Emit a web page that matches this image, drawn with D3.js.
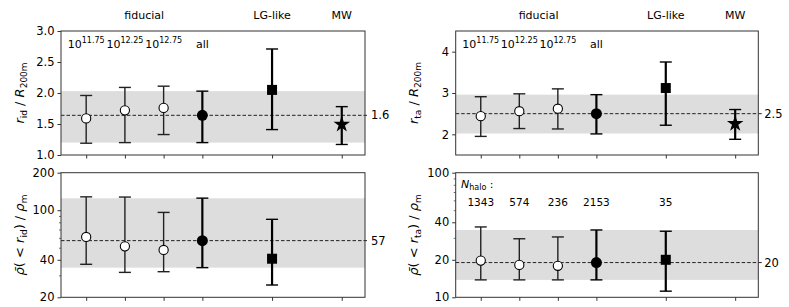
<!DOCTYPE html>
<html>
<head>
<meta charset="utf-8">
<script src="https://cdn.jsdelivr.net/npm/d3@7"></script>
<style>
  body { margin: 0; background: #fff; }
  svg { font-family: "DejaVu Sans", sans-serif; }
</style>
</head>
<body>
<svg width="789" height="307"></svg>
<script>
// sample positions along x, marker type per sample
const xPos = [0, 1, 2, 3, 4.8, 6.6];
const markers = ["open", "open", "open", "filled", "square", "star"];
const massExp = ["11.75", "12.25", "12.75"];
const groupLabels = [["fiducial", 1.5], ["LG-like", 4.8], ["MW", 6.6]];
const nHalo = ["1343", "574", "236", "2153", "35"];

// r_id / R200m
const ridMed = [1.59, 1.72, 1.76, 1.64, 2.05, 1.51];
const ridLo = [1.19, 1.20, 1.33, 1.20, 1.41, 1.17];
const ridHi = [1.96, 2.09, 2.11, 2.03, 2.71, 1.78];
const ridBand = [1.20, 2.03];
const ridRef = 1.64;

// rho(<r_id) / rho_m
const rhoIdMed = [61, 51.3, 48, 57, 40.8];
const rhoIdLo = [36.8, 31.7, 32.1, 34.6, 25.1];
const rhoIdHi = [128, 127.5, 96, 125, 84.5];
const rhoIdBand = [34.6, 124.6];
const rhoIdRef = 57;

// r_ta / R200m
const rtaMed = [2.44, 2.56, 2.62, 2.50, 3.12, 2.28];
const rtaLo = [1.95, 2.14, 2.13, 2.01, 2.22, 1.88];
const rtaHi = [2.91, 2.98, 3.10, 2.96, 3.75, 2.60];
const rtaBand = [2.02, 2.96];
const rtaRef = 2.5;

// rho(<r_ta) / rho_m
const rhoTaMed = [19.7, 18.2, 17.9, 19.0, 20.0];
const rhoTaLo = [13.8, 13.8, 13.8, 13.8, 11.2];
const rhoTaHi = [36.7, 29.5, 30.5, 34.7, 33.9];
const rhoTaBand = [13.8, 34.7];
const rhoTaRef = 19.0;

const svg = d3.select("svg");

function panel(opt) {
  var x = d3.scaleLinear().domain([-0.65, 7.2]).range([opt.x0, opt.x1]);
  var y = (opt.log ? d3.scaleLog() : d3.scaleLinear())
    .domain(opt.domain).range([opt.y1, opt.y0]);
  var g = svg.append("g");

  g.append("rect")
    .attr("x", opt.x0).attr("width", opt.x1 - opt.x0)
    .attr("y", y(opt.band[1])).attr("height", y(opt.band[0]) - y(opt.band[1]))
    .attr("fill", "#dddddd");

  g.append("line")
    .attr("x1", opt.x0).attr("x2", opt.x1 + 4)
    .attr("y1", y(opt.ref)).attr("y2", y(opt.ref))
    .attr("stroke", "#222").attr("stroke-width", 1).attr("stroke-dasharray", "3.5,2");
  g.append("text")
    .attr("x", opt.x1 + 6).attr("y", y(opt.ref)).attr("dy", "0.35em")
    .attr("font-size", 11.5).text(opt.refLabel);

  var yAxis = d3.axisLeft(y).tickValues(opt.ticks).tickSize(3.5).tickPadding(3)
    .tickFormat(opt.fmt);
  var ya = g.append("g").attr("transform", `translate(${opt.x0},0)`).call(yAxis);
  ya.select(".domain").remove();
  ya.selectAll("text").attr("font-size", 11.5).attr("font-family", "DejaVu Sans");
  ya.selectAll("line").attr("stroke", "#333");
  if (opt.minor) {
    var ym = d3.axisLeft(y).tickValues(opt.minor).tickSize(2).tickFormat("");
    var ymg = g.append("g").attr("transform", `translate(${opt.x0},0)`).call(ym);
    ymg.select(".domain").remove();
    ymg.selectAll("line").attr("stroke", "#333").attr("stroke-width", 0.7);
  }

  var xAxis = d3.axisBottom(x).tickValues(xPos).tickSize(3.5).tickFormat("");
  var xa = g.append("g").attr("transform", `translate(0,${opt.y1})`).call(xAxis);
  xa.select(".domain").remove();
  xa.selectAll("line").attr("stroke", "#333");

  g.append("rect")
    .attr("x", opt.x0).attr("y", opt.y0)
    .attr("width", opt.x1 - opt.x0).attr("height", opt.y1 - opt.y0)
    .attr("fill", "none").attr("stroke", "#333").attr("stroke-width", 1);

  var pts = opt.med.map((m, i) => ({ x: xPos[i], m: m, lo: opt.lo[i], hi: opt.hi[i], mk: markers[i] }));

  var e = g.selectAll(".err").data(pts).enter().append("g");
  e.each(function (d) {
    var s = d3.select(this);
    var bold = d.mk !== "open";
    var w = bold ? 2.2 : 1.4;
    var c = bold ? "#000" : "#222";
    s.append("line").attr("x1", x(d.x)).attr("x2", x(d.x))
      .attr("y1", y(d.lo)).attr("y2", y(d.hi)).attr("stroke", c).attr("stroke-width", w);
    [d.lo, d.hi].forEach(v => {
      s.append("line").attr("x1", x(d.x) - 6).attr("x2", x(d.x) + 6)
        .attr("y1", y(v)).attr("y2", y(v)).attr("stroke", c).attr("stroke-width", 1.4);
    });
    if (d.mk === "open") {
      s.append("circle").attr("cx", x(d.x)).attr("cy", y(d.m)).attr("r", 4.6)
        .attr("fill", "#fff").attr("stroke", "#000").attr("stroke-width", 1.1);
    } else if (d.mk === "filled") {
      s.append("circle").attr("cx", x(d.x)).attr("cy", y(d.m)).attr("r", 5.5).attr("fill", "#000");
    } else if (d.mk === "square") {
      s.append("rect").attr("x", x(d.x) - 5).attr("y", y(d.m) - 5)
        .attr("width", 10).attr("height", 10).attr("fill", "#000");
    } else {
      s.append("path").attr("d", d3.symbol(d3.symbolStar, 85)())
        .attr("transform", `translate(${x(d.x)},${y(d.m) + 1})`).attr("fill", "#000");
    }
  });

  // y label
  var lab = g.append("text")
    .attr("transform", `translate(${opt.labX},${(opt.y0 + opt.y1) / 2}) rotate(-90)`)
    .attr("text-anchor", "middle").attr("font-size", 13);
  opt.label(lab);

  return { x: x, y: y, g: g };
}

function ridLabel(sub) {
  return function (t) {
    t.append("tspan").attr("font-style", "italic").text("r");
    t.append("tspan").attr("font-size", 9).attr("dy", 3).text(sub);
    t.append("tspan").attr("dy", -3).text(" / ");
    t.append("tspan").attr("font-style", "italic").text("R");
    t.append("tspan").attr("font-size", 9).attr("dy", 3).text("200m");
  };
}
function rhoLabel(sub) {
  return function (t) {
    t.append("tspan").attr("font-style", "italic").text("ρ\u0304");
    t.append("tspan").text("( < ");
    t.append("tspan").attr("font-style", "italic").text("r");
    t.append("tspan").attr("font-size", 9).attr("dy", 3).text(sub);
    t.append("tspan").attr("dy", -3).text(") / ");
    t.append("tspan").attr("font-style", "italic").text("ρ");
    t.append("tspan").attr("font-size", 9).attr("dy", 3).text("m");
  };
}

var tl = panel({
  x0: 61, x1: 365, y0: 31, y1: 155, domain: [1, 3], ticks: [1, 1.5, 2, 2.5, 3],
  fmt: d3.format(".1f"), band: ridBand, ref: ridRef, refLabel: "1.6",
  med: ridMed, lo: ridLo, hi: ridHi, labX: 24, label: ridLabel("id")
});
var bl = panel({
  x0: 61, x1: 365, y0: 172.7, y1: 297.3, log: true, domain: [20, 200],
  ticks: [20, 40, 100, 200], minor: [30, 50, 60, 70, 80, 90], fmt: d3.format("d"),
  band: rhoIdBand, ref: rhoIdRef, refLabel: "57",
  med: rhoIdMed, lo: rhoIdLo, hi: rhoIdHi, labX: 24, label: rhoLabel("id")
});
var tr = panel({
  x0: 455.7, x1: 758.3, y0: 31, y1: 155, domain: [1.5, 4.5], ticks: [2, 3, 4],
  fmt: d3.format("d"), band: rtaBand, ref: rtaRef, refLabel: "2.5",
  med: rtaMed, lo: rtaLo, hi: rtaHi, labX: 418, label: ridLabel("ta")
});
var br = panel({
  x0: 455.7, x1: 758.3, y0: 172.7, y1: 297.3, log: true, domain: [10, 100],
  ticks: [10, 20, 40, 100], minor: [30, 50, 60, 70, 80, 90], fmt: d3.format("d"),
  band: rhoTaBand, ref: rhoTaRef, refLabel: "20",
  med: rhoTaMed, lo: rhoTaLo, hi: rhoTaHi, labX: 418, label: rhoLabel("ta")
});

// group headings and mass labels above / inside top panels
[tl, tr].forEach(p => {
  groupLabels.forEach(([t, xv]) => {
    p.g.append("text").attr("x", p.x(xv)).attr("y", 19).attr("text-anchor", "middle")
      .attr("font-size", 11).text(t);
  });
  massExp.forEach((m, i) => {
    var t = p.g.append("text").attr("x", p.x(xPos[i])).attr("y", 48)
      .attr("text-anchor", "middle").attr("font-size", 11);
    t.append("tspan").text("10");
    t.append("tspan").attr("font-size", 8).attr("dy", -5).text(m);
  });
  p.g.append("text").attr("x", p.x(xPos[3])).attr("y", 48).attr("text-anchor", "middle")
    .attr("font-size", 11).text("all");
});

// halo counts
var nh = br.g.append("text").attr("x", 461).attr("y", 188).attr("font-size", 11);
nh.append("tspan").attr("font-style", "italic").text("N");
nh.append("tspan").attr("font-size", 8).attr("dy", 2).text("halo");
nh.append("tspan").attr("dy", -2).text(" :");
nHalo.forEach((n, i) => {
  br.g.append("text").attr("x", br.x(xPos[i])).attr("y", 206).attr("text-anchor", "middle")
    .attr("font-size", 10.5).text(n);
});
</script>
</body>
</html>
